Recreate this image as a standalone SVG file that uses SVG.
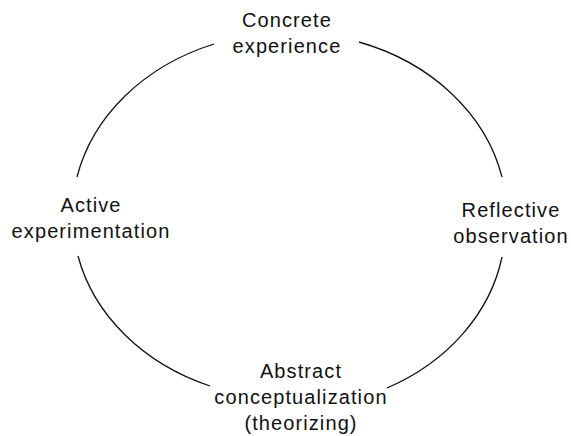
<svg xmlns="http://www.w3.org/2000/svg" width="571" height="436" viewBox="0 0 571 436">
<style>
.lbl{font-family:"Liberation Sans",Arial,sans-serif;font-size:20px;letter-spacing:1.1px;fill:#111;text-anchor:middle}
.arc{fill:none;stroke:#111;stroke-width:1.3}
</style>
<rect width="571" height="436" fill="#fff"/>
<g id="connectors">
<path class="arc" d="M214,44 A218,183 0 0,0 77,177"/>
<path class="arc" d="M359,42 A218,183 0 0,1 502,177"/>
<path class="arc" d="M502,257 A218,183 0 0,1 387,388"/>
<path class="arc" d="M210,386 A218,183 0 0,1 78,256"/>
</g>
<g id="concrete">
<text class="lbl" x="287" y="27">Concrete</text>
<text class="lbl" x="287" y="53">experience</text>
</g>
<g id="active">
<text class="lbl" x="91" y="212">Active</text>
<text class="lbl" x="91" y="238">experimentation</text>
</g>
<g id="reflective">
<text class="lbl" x="511" y="217">Reflective</text>
<text class="lbl" x="511" y="243">observation</text>
</g>
<g id="abstract">
<text class="lbl" x="301" y="378">Abstract</text>
<text class="lbl" x="301" y="404">conceptualization</text>
<text class="lbl" x="301" y="430">(theorizing)</text>
</g>
</svg>
